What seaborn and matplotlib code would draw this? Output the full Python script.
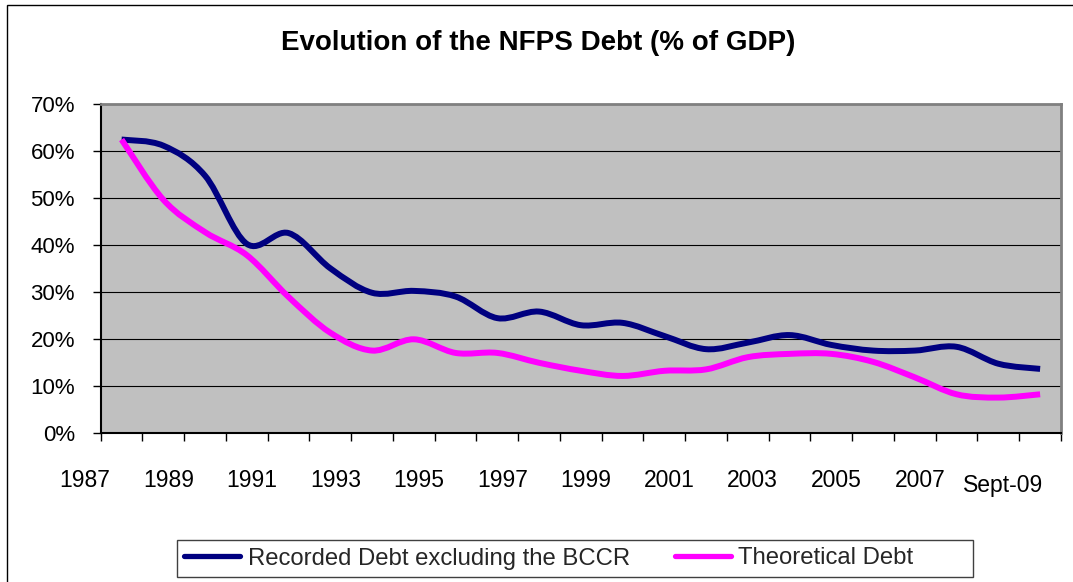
import numpy as np
import pandas as pd
import matplotlib
matplotlib.use("Agg")
import matplotlib.pyplot as plt
from matplotlib.path import Path
from matplotlib.patches import PathPatch, Rectangle
from matplotlib.lines import Line2D
from matplotlib.transforms import ScaledTranslation
import seaborn as sns

# NFPS debt as % of GDP, one value per year (last one is September 2009)
years = list(range(1987, 2010))
recorded_debt = [62.5, 61.2, 54.8, 40.3, 42.6, 35.1, 29.9, 30.3, 29.1, 24.5, 25.9, 23.0,
                 23.5, 20.7, 17.9, 19.3, 20.9, 18.8, 17.6, 17.6, 18.4, 14.8, 13.7]
theoretical_debt = [62.5, 49.7, 42.8, 37.9, 29.0, 21.4, 17.6, 20.0, 17.1, 17.1, 15.0, 13.3,
                    12.2, 13.3, 13.6, 16.2, 16.9, 16.9, 15.2, 11.9, 8.3, 7.6, 8.3]
series_names = ["Recorded Debt excluding the BCCR", "Theoretical Debt"]
label_years = [1987, 1989, 1991, 1993, 1995, 1997, 1999, 2001, 2003, 2005, 2007, 2009]
label_texts = ["1987", "1989", "1991", "1993", "1995", "1997", "1999", "2001",
               "2003", "2005", "2007", "Sept-09"]
y_ticks = [0, 10, 20, 30, 40, 50, 60, 70]

NAVY = "#000080"
MAGENTA = "#FF00FF"
PLOT_BG = "#C0C0C0"

sns.set_theme(style="white")
plt.rcParams["font.family"] = ["Liberation Sans", "DejaVu Sans"]

W, H = 1073, 582
DPI = 100
fig = plt.figure(figsize=(W / DPI, H / DPI), dpi=DPI)
fig.patch.set_facecolor("white")
ax = fig.add_axes([100.7 / W, 148.7 / H, 960.3 / W, 329 / H])
ax.set_facecolor(PLOT_BG)

df = pd.DataFrame({
    "year": years * 2,
    "debt": recorded_debt + theoretical_debt,
    "series": [series_names[0]] * len(years) + [series_names[1]] * len(years),
})
palette = {series_names[0]: NAVY, series_names[1]: MAGENTA}
sns.lineplot(data=df, x="year", y="debt", hue="series", palette=palette,
             linewidth=4.3, ax=ax, legend=False)


def smooth_path(xy):
    """Bezier curve through every point (Catmull-Rom style tangents)."""
    pts = np.asarray(xy, dtype=float)
    n = len(pts)
    verts = [pts[0]]
    codes = [Path.MOVETO]
    for i in range(n - 1):
        p0 = pts[max(i - 1, 0)]
        p1 = pts[i]
        p2 = pts[i + 1]
        p3 = pts[min(i + 2, n - 1)]
        verts += [p1 + (p2 - p0) / 6.0, p2 - (p3 - p1) / 6.0, p2]
        codes += [Path.CURVE4] * 3
    return Path(verts, codes)


# redraw each seaborn line as a smoothed curve
for line in list(ax.get_lines()):
    patch = PathPatch(smooth_path(line.get_xydata()), facecolor="none",
                      edgecolor=line.get_color(), linewidth=line.get_linewidth(),
                      capstyle="butt", joinstyle="round", zorder=3)
    ax.add_patch(patch)
    line.set_visible(False)

ax.set_xlabel("")
ax.set_ylabel("")

# ticks
ax.set_yticks(y_ticks)
ax.set_yticklabels([f"{v}%" for v in y_ticks])
ax.tick_params(axis="y", which="major", direction="out", length=5.5, width=1.0,
               color="black", pad=13, labelsize=16, labelcolor="black", left=True)

ax.set_xticks(np.arange(years[0] - 0.5, years[-1] + 1.0, 1.0), minor=True)
ax.tick_params(axis="x", which="minor", direction="out", length=5.5, width=1.0,
               color="black", bottom=True)
ax.set_xticks(label_years)
ax.set_xticklabels(label_texts)
ax.tick_params(axis="x", which="major", length=0, pad=26, labelsize=16.5,
               labelcolor="black", bottom=True)

ax.set_xlim(years[0] - 0.5, years[-1] + 0.5)
ax.set_ylim(y_ticks[0], y_ticks[-1])

ax.yaxis.grid(True, color="black", linewidth=0.8)
ax.xaxis.grid(False)
ax.set_axisbelow(True)

for side in ("left", "bottom"):
    ax.spines[side].set_color("black")
    ax.spines[side].set_linewidth(1.5)
for side in ("top", "right"):
    ax.spines[side].set_color("#808080")
    ax.spines[side].set_linewidth(2.0)

# year labels sit to the left of their category; the last one a little lower
xlabels = ax.get_xticklabels()
for i, lab in enumerate(xlabels):
    dy = -5 if i == len(xlabels) - 1 else 0
    lab.set_transform(lab.get_transform()
                      + ScaledTranslation(-36.8 / DPI, dy / DPI, fig.dpi_scale_trans))

# title
fig.text(538 / W, 1 - 50 / H, "Evolution of the NFPS Debt (% of GDP)", ha="center",
         va="baseline", fontsize=20, fontweight="bold", color="black")

# chart area border
fig.add_artist(Rectangle((7 / W, -0.05), 1.2, 1.05 - 5 / H, transform=fig.transFigure,
                         fill=False, edgecolor="black", linewidth=1.0))

# legend
handles = [Line2D([], [], color=NAVY, linewidth=3.8),
           Line2D([], [], color=MAGENTA, linewidth=3.8)]
fs_leg = 17.2
fs_px = fs_leg * DPI / 72
fig.legend(handles, series_names, loc="center left",
           bbox_to_anchor=(184 / W, 1 - 558.5 / H), ncol=2, frameon=False,
           fontsize=fs_leg, handlelength=56 / fs_px, handletextpad=7.5 / fs_px,
           columnspacing=45 / fs_px, borderpad=0, borderaxespad=0)
fig.add_artist(Rectangle((177 / W, 1 - 577 / H), (973 - 177) / W, 37 / H,
                         transform=fig.transFigure, fill=False,
                         edgecolor="#404040", linewidth=1.0))

fig.savefig("out.png", dpi=DPI)
